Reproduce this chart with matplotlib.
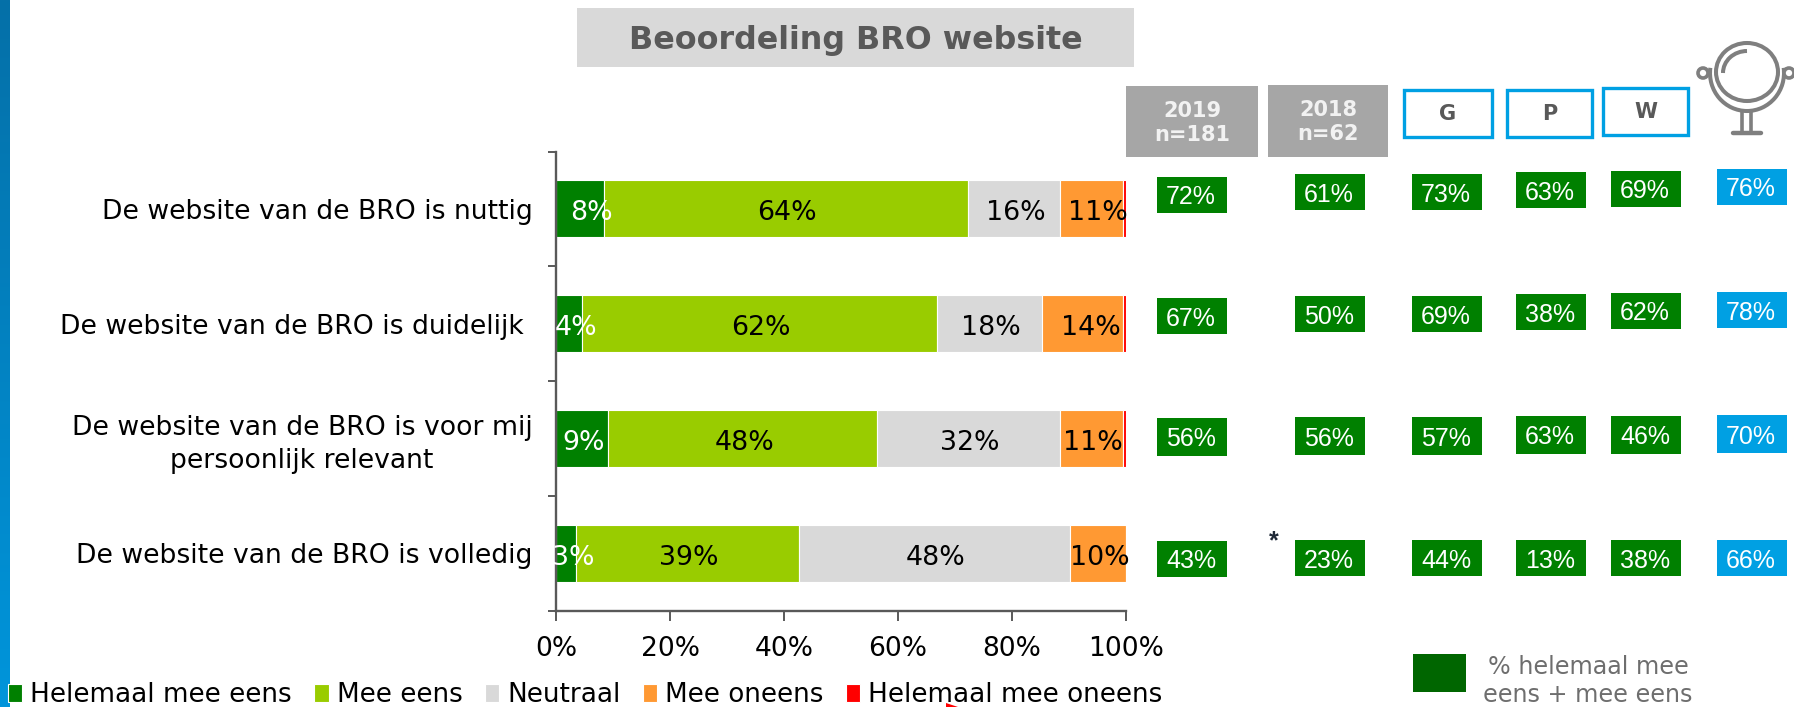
import numpy as np
import matplotlib
matplotlib.use("Agg")
import matplotlib.pyplot as plt
from matplotlib.patches import Arc, Circle, Ellipse, Polygon, Rectangle

# --- data ---
questions = [
    "De website van de BRO is nuttig",
    "De website van de BRO is duidelijk ",
    "De website van de BRO is voor mij\npersoonlijk relevant",
    "De website van de BRO is volledig",
]
series_names = ["Helemaal mee eens", "Mee eens", "Neutraal", "Mee oneens", "Helemaal mee oneens"]
helemaal_eens = [8.4, 4.5, 9.2, 3.5]
mee_eens = [63.9, 62.4, 47.2, 39.1]
neutraal = [16.2, 18.3, 32.1, 47.5]
mee_oneens = [10.9, 14.2, 10.9, 9.9]
helemaal_oneens = [0.6, 0.6, 0.6, 0.0]

labels_helemaal_eens = [8, 4, 9, 3]
labels_mee_eens = [64, 62, 48, 39]
labels_neutraal = [16, 18, 32, 48]
labels_mee_oneens = [11, 14, 11, 10]

totaal_2019 = [72, 67, 56, 43]
totaal_2018 = [61, 50, 56, 23]
groep_g = [73, 69, 57, 44]
groep_p = [63, 38, 63, 13]
groep_w = [69, 62, 46, 38]
spiegel = [76, 78, 70, 66]

x_ticks = [0, 20, 40, 60, 80, 100]

# --- styling / layout (pixels of the 1794x707 picture) ---
W, H = 1794, 707
DARK_GREEN = "#008000"
LIGHT_GREEN = "#99CC00"
GREY = "#D9D9D9"
ORANGE = "#FF9933"
RED = "#FF0000"
BLUE = "#00A0E3"
AXIS = "#595959"
SANS = "DejaVu Sans"
ARIAL = "Liberation Sans"

BADGE_LEFT = [1157, 1295, 1412, 1516, 1611, 1717]
BADGE_TOP = [
    [177, 298, 418, 541],
    [174, 296, 417, 540],
    [174, 296, 417, 540],
    [172, 294, 416, 540],
    [171, 293, 416, 540],
    [169, 292, 415, 540],
]
BADGE_W = 70
BADGE_H = [36, 36, 38, 36]

# nudges (in % units) for the labels in narrow segments
LABEL_NUDGE = {(0, 0): 2.0, (1, 0): 1.3, (3, 0): 1.3, (0, 3): 1.1, (1, 3): 1.6, (3, 3): 0.4}

fig = plt.figure(figsize=(W / 100, H / 100), dpi=100, facecolor="white")

# overlay in pixel coordinates for the slide furniture
over = fig.add_axes([0, 0, 1, 1], zorder=0)
over.set_xlim(0, W)
over.set_ylim(H, 0)
over.axis("off")

ax = fig.add_axes([556 / W, 1 - 610.5 / H, 570 / W, 459 / H], zorder=1)
ax.patch.set_alpha(0)

series = [helemaal_eens, mee_eens, neutraal, mee_oneens, helemaal_oneens]
colors = [DARK_GREEN, LIGHT_GREEN, GREY, ORANGE, RED]
label_rows = [labels_helemaal_eens, labels_mee_eens, labels_neutraal, labels_mee_oneens]

y_pos = np.arange(len(questions))
left = np.zeros(len(questions))
bars = []
for i, (values, color, name) in enumerate(zip(series, colors, series_names)):
    bar = ax.barh(y_pos, values, left=left, height=0.495, color=color, edgecolor="white",
                  linewidth=0.8, label=name)
    bars.append(bar)
    if i < len(label_rows):
        for r, value in enumerate(values):
            x = left[r] + value / 2 + LABEL_NUDGE.get((r, i), 0.2)
            ax.text(x, y_pos[r] + 0.04, f"{label_rows[i][r]}%", ha="center", va="center",
                    fontsize=19.3, family=SANS, color="white" if i == 0 else "black", zorder=5)
    left = left + np.array(values)

ax.set_xlim(0, 100)
ax.set_ylim(3.5, -0.5)
ax.set_xticks(x_ticks)
ax.set_xticklabels([f"{t}%" for t in x_ticks], fontsize=19.1, family=SANS, color="black")
ax.tick_params(axis="x", length=7.5, width=1.4, color=AXIS, pad=10.5)
ax.set_yticks(np.arange(-0.5, 4, 1))
ax.set_yticklabels([])
ax.tick_params(axis="y", length=5.8, width=1.4, color=AXIS)
ax.set_yticks(y_pos, questions, minor=True, fontsize=19.2, family=SANS, color="black",
              multialignment="center", linespacing=1.35)
ax.tick_params(axis="y", which="minor", length=0, pad=17)
for side in ["top", "right"]:
    ax.spines[side].set_visible(False)
for side in ["left", "bottom"]:
    ax.spines[side].set_color(AXIS)
    ax.spines[side].set_linewidth(1.7)

ax.legend(handles=[b[0] for b in bars], labels=series_names, ncol=5, frameon=False,
          loc="center left", bbox_to_anchor=(8 / W, 1 - 695 / H), bbox_transform=fig.transFigure,
          fontsize=18.9, handlelength=0.55, handleheight=0.65, handletextpad=0.3,
          columnspacing=0.85, borderpad=0, borderaxespad=0)

# left stripe
gradient = np.linspace(0, 1, 256).reshape(-1, 1)
stripe = matplotlib.colors.LinearSegmentedColormap.from_list("stripe", ["#0570A8", "#0095DB"])
over.imshow(gradient, extent=(0, 10, H, 0), aspect="auto", cmap=stripe, zorder=1)
over.set_xlim(0, W)
over.set_ylim(H, 0)

# title
over.add_patch(Rectangle((577, 8), 557, 59, facecolor=GREY, edgecolor="none"))
over.text(855.5, 40, "Beoordeling BRO website", ha="center", va="center", fontsize=22.85,
          fontweight="bold", family=SANS, color="#595959")

# column headers
over.add_patch(Rectangle((1126, 86), 132, 71, facecolor="#A6A6A6", edgecolor="none"))
over.add_patch(Rectangle((1268, 85), 120, 72, facecolor="#A6A6A6", edgecolor="none"))
over.text(1192, 123, "2019\nn=181", ha="center", va="center", fontsize=15, fontweight="bold",
          family=SANS, color="#F2F2F2", linespacing=1.25)
over.text(1328, 122, "2018\nn=62", ha="center", va="center", fontsize=15, fontweight="bold",
          family=SANS, color="#F2F2F2", linespacing=1.25)
for x0, y0, w, h, letter in [(1404, 90, 88, 47, "G"), (1507, 90, 85, 47, "P"), (1603, 88, 85, 47, "W")]:
    over.add_patch(Rectangle((x0, y0), w, h, facecolor="white", edgecolor=BLUE, linewidth=2.4))
    over.text(x0 + w / 2, y0 + h / 2 + 0.5, letter, ha="center", va="center", fontsize=15,
              fontweight="bold", family=SANS, color="#595959")

# mirror icon
ICON = "#7F7F7F"
over.add_patch(Ellipse((1747, 72), 62, 58, facecolor="none", edgecolor=ICON, linewidth=2.9))
over.add_patch(Arc((1747, 73), 74, 76, theta1=-8, theta2=188, edgecolor=ICON, linewidth=2.9))
over.add_patch(Arc((1747, 73), 48, 44, theta1=180, theta2=270, edgecolor=ICON, linewidth=2.9))
over.add_patch(Circle((1703, 73), 5, facecolor="white", edgecolor=ICON, linewidth=2.6))
over.add_patch(Circle((1789, 73), 5, facecolor="white", edgecolor=ICON, linewidth=2.6))
over.plot([1742, 1742], [111, 133], color=ICON, lw=2.6)
over.plot([1751, 1751], [111, 133], color=ICON, lw=2.6)
over.plot([1733, 1761], [133, 133], color=ICON, lw=3.2, solid_capstyle="round")

# percentage badges
columns = [totaal_2019, totaal_2018, groep_g, groep_p, groep_w, spiegel]
for c, values in enumerate(columns):
    face = BLUE if values is spiegel else DARK_GREEN
    for r, value in enumerate(values):
        x0, y0 = BADGE_LEFT[c], BADGE_TOP[c][r]
        over.add_patch(Rectangle((x0, y0), BADGE_W, BADGE_H[r], facecolor=face, edgecolor="none"))
        over.text(x0 + BADGE_W / 2 - 1, y0 + BADGE_H[r] / 2 + 2.5, f"{value}%", ha="center", va="center",
                  fontsize=18, family=ARIAL, color="white")

over.text(1274, 541, "*", ha="center", va="center", fontsize=18, fontweight="bold",
          family=ARIAL, color="#1F2937")

# right hand key
over.add_patch(Rectangle((1413, 654), 53, 38, facecolor="#006600", edgecolor="none"))
over.text(1588, 681, "% helemaal mee\neens + mee eens", ha="center", va="center", fontsize=17.2,
          family=SANS, color="#6E6E6E", linespacing=1.2)

# small red corner of a cut-off element at the bottom edge
over.add_patch(Polygon([(946, 703), (958, 707), (946, 707)], facecolor=RED, edgecolor="none"))

fig.savefig("out.png", dpi=100)
